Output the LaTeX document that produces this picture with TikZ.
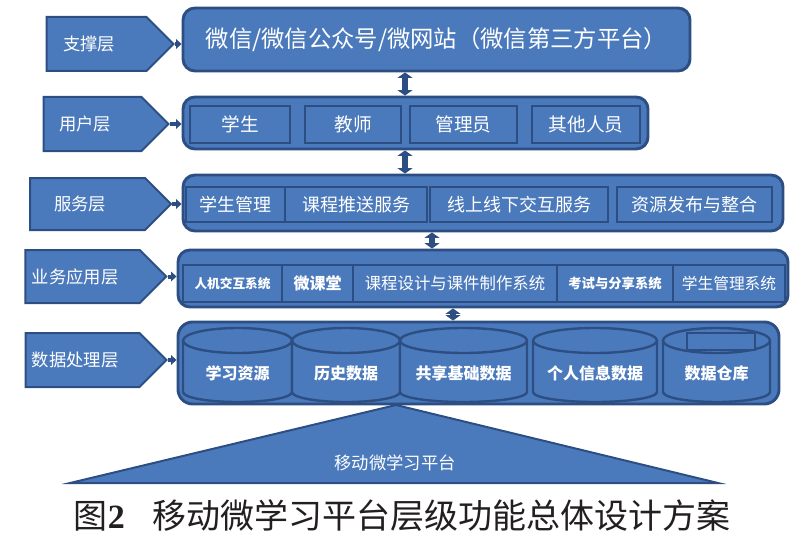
\documentclass[tikz,border=0pt]{standalone}
\usepackage{fontspec}
\usetikzlibrary{shapes.symbols,arrows.meta}
\newfontfamily\cjk{Noto Sans CJK SC}
\newfontfamily\numfont{Liberation Serif}
\definecolor{tierblue}{RGB}{75,122,188}
\definecolor{tierdark}{RGB}{45,78,130}
\definecolor{capgray}{RGB}{35,31,32}
\tikzset{
  tiersize/.style 2 args={minimum width=#1*0.75pt, minimum height=#2*0.75pt},
  tierlabel/.style={shape=signal, signal to=east, signal pointer angle=90, fill=tierblue, draw=tierdark, line width=1.5pt, text=white, inner sep=0pt, font=\cjk\fontsize{13}{15}\selectfont, execute at end node=\hspace*{11pt}},
  tierbox/.style={rounded corners=9pt, fill=tierblue, draw=tierdark, line width=2.2pt, inner sep=0pt, text=white},
  tiercell/.style={fill=tierblue, draw=tierdark, line width=2pt, text=white, inner sep=0pt, font=\cjk\fontsize{13.5}{15}\selectfont},
  tierlink/.style={draw=tierdark, line width=3pt, -{Triangle[width=7pt,length=4pt]}},
  tierflow/.style={draw=tierdark, line width=4pt, {Triangle[width=11pt,length=4pt]}-{Triangle[width=11pt,length=4pt]}},
  cylbody/.style={fill=tierblue, draw=tierdark, line width=1.8pt},
  cyltext/.style={text=white, font=\cjk\bfseries\fontsize{12}{14}\selectfont},
}
\begin{document}
\begin{tikzpicture}[x=0.75pt,y=0.75pt,yscale=-1,xscale=1]
\useasboundingbox (0,0) rectangle (791,549);

%Shape: Layer labels
\node [tierlabel, tiersize={127}{54}] (lsup) at (96.5,44) {支撑层};
\node [tierlabel, tiersize={125}{54}] (lusr) at (92.5,124) {用户层};
\node [tierlabel, tiersize={141}{52}] (lsrv) at (87.5,204) {服务层};
\node [tierlabel, tiersize={141}{53}] (lapp) at (82.5,276.5) {业务应用层};
\node [tierlabel, tiersize={141}{54}] (ldat) at (82.5,360) {数据处理层};

%Shape: Rounded Rect [support]
\node [tierbox, tiersize={507}{63}, font=\cjk\fontsize{17.5}{20}\selectfont] (sup) at (436.5,39.5) {微信/微信公众号/微网站（微信第三方平台）};
%Shape: Rounded Rect [users]
\node [tierbox, tiersize={465}{52}] (usr) at (415.5,123) {};
\node [tiercell, tiersize={100}{37}, font=\cjk\fontsize{14}{16}\selectfont] (stu) at (240,124.5) {学生};
\node [tiercell, tiersize={96}{37}, font=\cjk\fontsize{14}{16}\selectfont] (tea) at (353,124.5) {教师};
\node [tiercell, tiersize={107}{37}, font=\cjk\fontsize{14}{16}\selectfont] (adm) at (463.5,124.5) {管理员};
\node [tiercell, tiersize={108}{37}, font=\cjk\fontsize{14}{16}\selectfont] (oth) at (586,124.5) {其他人员};
%Shape: Rounded Rect [services]
\node [tierbox, tiersize={600}{56}] (srv) at (483,203) {};
\node [tiercell, tiersize={99}{35}] (smg) at (235.5,204.5) {学生管理};
\node [tiercell, tiersize={142}{35}] (push) at (356,204.5) {课程推送服务};
\node [tiercell, tiersize={178}{35}] (olo) at (519,204.5) {线上线下交互服务};
\node [tiercell, tiersize={155}{35}] (res) at (694.5,204.5) {资源发布与整合};
%Shape: Rounded Rect [applications]
\node [tierbox, tiersize={610}{57}] (app) at (483,278.5) {};
\node [tiercell, tiersize={99}{37}, font=\cjk\bfseries\fontsize{9.5}{11}\selectfont] (hci) at (232.5,283.5) {人机交互系统};
\node [tiercell, tiersize={71}{37}, font=\cjk\bfseries\fontsize{12}{14}\selectfont] (mcls) at (317.5,283.5) {微课堂};
\node [tiercell, tiersize={204}{37}, font=\cjk\fontsize{12.3}{14}\selectfont] (cdes) at (455,283.5) {课程设计与课件制作系统};
\node [tiercell, tiersize={116}{37}, font=\cjk\bfseries\fontsize{10}{12}\selectfont] (exam) at (615,283.5) {考试与分享系统};
\node [tiercell, tiersize={112}{37}, font=\cjk\fontsize{11.8}{14}\selectfont] (ssys) at (729,283.5) {学生管理系统};
%Shape: Rounded Rect [data]
\node [tierbox, tiersize={601}{82}, rounded corners=11pt] (dat) at (478.5,363) {};

%Shape: Cylinders
\draw [cylbody] (183,340.5) -- (183,392) arc [start angle=180, end angle=0, x radius=54.5, y radius=10] -- (292,340.5) ;
\draw [cylbody] (237.5,340.5) ellipse [x radius=54.5, y radius=12.5] ;
\draw [cylbody] (292,340.5) -- (292,392) arc [start angle=180, end angle=0, x radius=54, y radius=10] -- (400,340.5) ;
\draw [cylbody] (346,340.5) ellipse [x radius=54, y radius=12.5] ;
\draw [cylbody] (400,340.5) -- (400,392) arc [start angle=180, end angle=0, x radius=63.5, y radius=10] -- (527,340.5) ;
\draw [cylbody] (463.5,340.5) ellipse [x radius=63.5, y radius=12.5] ;
\draw [cylbody] (533,340.5) -- (533,392) arc [start angle=180, end angle=0, x radius=62, y radius=10] -- (657,340.5) ;
\draw [cylbody] (595,340.5) ellipse [x radius=62, y radius=12.5] ;
\draw [cylbody] (663,340.5) -- (663,392) arc [start angle=180, end angle=0, x radius=53.5, y radius=10] -- (770,340.5) ;
\draw [cylbody] (716.5,340.5) ellipse [x radius=53.5, y radius=12.5] ;
\draw [cylbody] (687,333) rectangle (755,350) ;

% Text Node
\node [cyltext] (lres) at (237.5,373) {学习资源};
\node [cyltext] (hist) at (346,373) {历史数据};
\node [cyltext] (shar) at (463.5,373) {共享基础数据};
\node [cyltext] (pers) at (595,373) {个人信息数据};
\node [cyltext] (ware) at (716.5,373) {数据仓库};

%Straight Lines: label to layer
\draw [tierlink] (lsup.east) -- (lsup.east -| sup.west) ;
\draw [tierlink] (lusr.east) -- (lusr.east -| usr.west) ;
\draw [tierlink] (lsrv.east) -- (lsrv.east -| srv.west) ;
\draw [tierlink] (lapp.east) -- (lapp.east -| app.west) ;
\draw [tierlink] (ldat.east) -- (ldat.east -| dat.west) ;

%Straight Lines: between layers
\coordinate (fa) at (405,0) ;
\coordinate (fb) at (432,0) ;
\coordinate (fc) at (453,0) ;
\draw [tierflow] (sup.south -| fa) -- (usr.north -| fa) ;
\draw [tierflow] (usr.south -| fa) -- (srv.north -| fa) ;
\draw [tierflow] (srv.south -| fb) -- (app.north -| fb) ;
\draw [tierflow] (app.south -| fc) -- (dat.north -| fc) ;

%Shape: Triangle
\coordinate (apex) at (396,405) ;
\draw [cylbody, line width=1.5pt] (apex) -- (718,483) -- (70,483) -- cycle ;
% Text Node
\node [text=white, font=\cjk\fontsize{13}{15}\selectfont] (plat) at (395,463) {移动微学习平台};

% Text Node
\node [text=capgray, font=\cjk\fontsize{25.5}{28}\selectfont] (cap) at (402,516) {图{\numfont\bfseries 2}\hspace{0.8em}移动微学习平台层级功能总体设计方案};

\end{tikzpicture}
\end{document}
